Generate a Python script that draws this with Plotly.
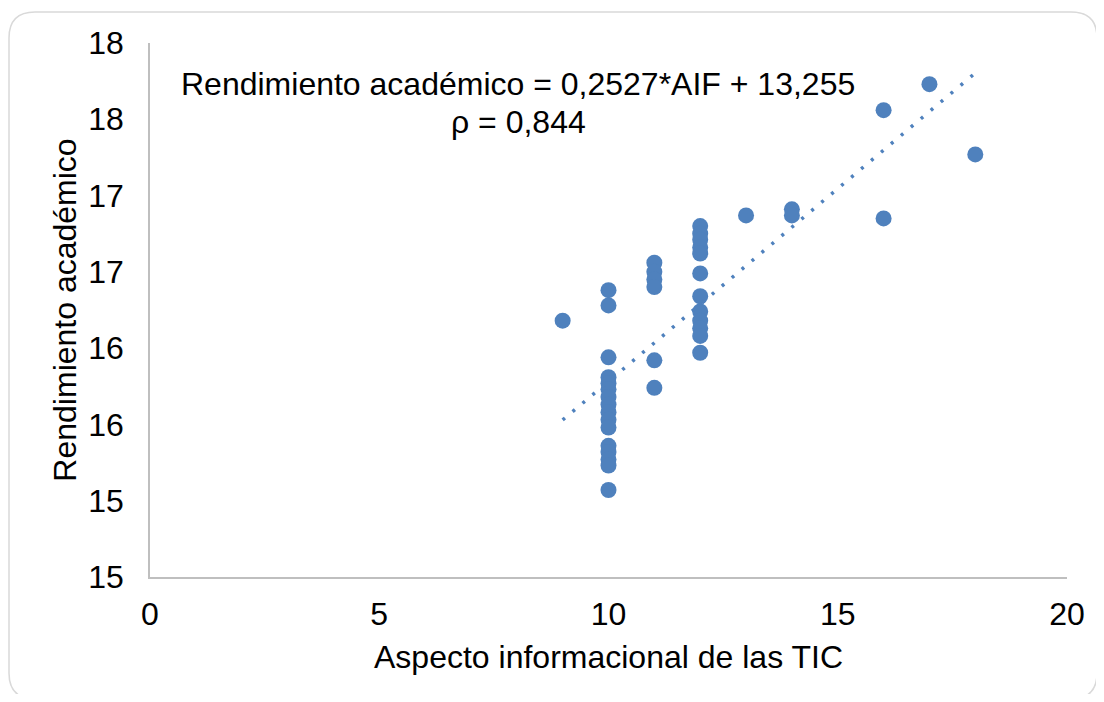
import plotly.graph_objects as go
import numpy as np

# Data
aif = [9,
       10, 10, 10, 10, 10, 10, 10, 10, 10, 10, 10, 10, 10, 10, 10, 10,
       11, 11, 11, 11, 11, 11,
       12, 12, 12, 12, 12, 12, 12, 12, 12, 12, 12, 12,
       13, 14, 14, 16, 16, 17, 18]
rendimiento = [16.18,
               16.38, 16.28, 15.94, 15.81, 15.77, 15.73, 15.68, 15.63, 15.58, 15.53, 15.48,
               15.36, 15.32, 15.27, 15.23, 15.07,
               16.56, 16.50, 16.45, 16.40, 15.92, 15.74,
               16.80, 16.75, 16.71, 16.66, 16.62, 16.49, 16.34, 16.24, 16.18, 16.13, 16.08, 15.97,
               16.87, 16.91, 16.87, 17.56, 16.85, 17.73, 17.27]

slope = 0.2527
intercept = 13.255
y_tickvals = [14.5, 15, 15.5, 16, 16.5, 17, 17.5, 18]
y_ticktext = ["15", "15", "16", "16", "17", "17", "18", "18"]
x_tickvals = [0, 5, 10, 15, 20]

blue = "#4F81BD"
font = "Liberation Sans, Arial, sans-serif"

tx = np.array([min(aif), max(aif)])
ty = slope * tx + intercept

fig = go.Figure()
fig.add_trace(go.Scatter(x=aif, y=rendimiento, mode="markers",
                         marker=dict(color=blue, size=16, line=dict(width=0)),
                         showlegend=False))
fig.add_trace(go.Scatter(x=tx, y=ty, mode="lines",
                         line=dict(color=blue, width=3.5, dash="3px,10px"),
                         showlegend=False))

OFF = 8  # page body margin
W, H = 1104 - 2 * OFF, 702 - 2 * OFF
L, T = 150 - OFF, 43 - OFF
R = W - (1067 - OFF)
B = H - (577 - OFF)
pw, ph = W - L - R, H - T - B

def px2paper(x, y):
    # x, y in screenshot pixels
    x -= OFF
    y -= OFF
    return (x - L) / pw, (H - B - y) / ph

def P(x, y):
    a, b = px2paper(x, y)
    return f"{a:.5f},{b:.5f}"

# rounded border
x0, y0, x1, y1, r = 9, 12, 1097, 699, 26
path = (f"M {P(x0 + r, y0)} L {P(x1 - r, y0)} Q {P(x1, y0)} {P(x1, y0 + r)} "
        f"L {P(x1, y1 - r)} Q {P(x1, y1)} {P(x1 - r, y1)} "
        f"L {P(x0 + r, y1)} Q {P(x0, y1)} {P(x0, y1 - r)} "
        f"L {P(x0, y0 + r)} Q {P(x0, y0)} {P(x0 + r, y0)} Z")
fig.add_shape(type="path", path=path, xref="paper", yref="paper",
              line=dict(color="#D9D9D9", width=1.5), layer="below")

a1 = px2paper(518, 84)
a2 = px2paper(518, 122)
fig.add_annotation(x=a1[0], y=a1[1], xref="paper", yref="paper",
                   text="Rendimiento académico = 0,2527*AIF + 13,255",
                   showarrow=False, font=dict(size=32, color="black", family=font),
                   xanchor="center", yanchor="middle")
fig.add_annotation(x=a2[0], y=a2[1], xref="paper", yref="paper",
                   text="ρ = 0,844",
                   showarrow=False, font=dict(size=32, color="black", family=font),
                   xanchor="center", yanchor="middle")

fig.update_layout(
    width=W, height=H,
    margin=dict(l=L, r=R, t=T, b=B, autoexpand=False),
    plot_bgcolor="white", paper_bgcolor="white",
    font=dict(family=font, size=32, color="black"),
    xaxis=dict(range=[0, 20], tickvals=x_tickvals, showgrid=False, zeroline=False,
               showline=True, linecolor="#BFBFBF", linewidth=1.5, ticks="",
               tickfont=dict(size=32), ticklabelstandoff=8, automargin=False,
               title=dict(text="Aspecto informacional de las TIC", font=dict(size=32), standoff=14)),
    yaxis=dict(range=[14.5, 18], tickvals=y_tickvals, ticktext=y_ticktext, showgrid=False,
               zeroline=False, showline=True, linecolor="#BFBFBF", linewidth=1.5, ticks="",
               tickfont=dict(size=32), ticklabelstandoff=18, automargin=False,
               title=dict(text="Rendimiento académico", font=dict(size=32), standoff=2)),
)

fig.write_html("out.html")
